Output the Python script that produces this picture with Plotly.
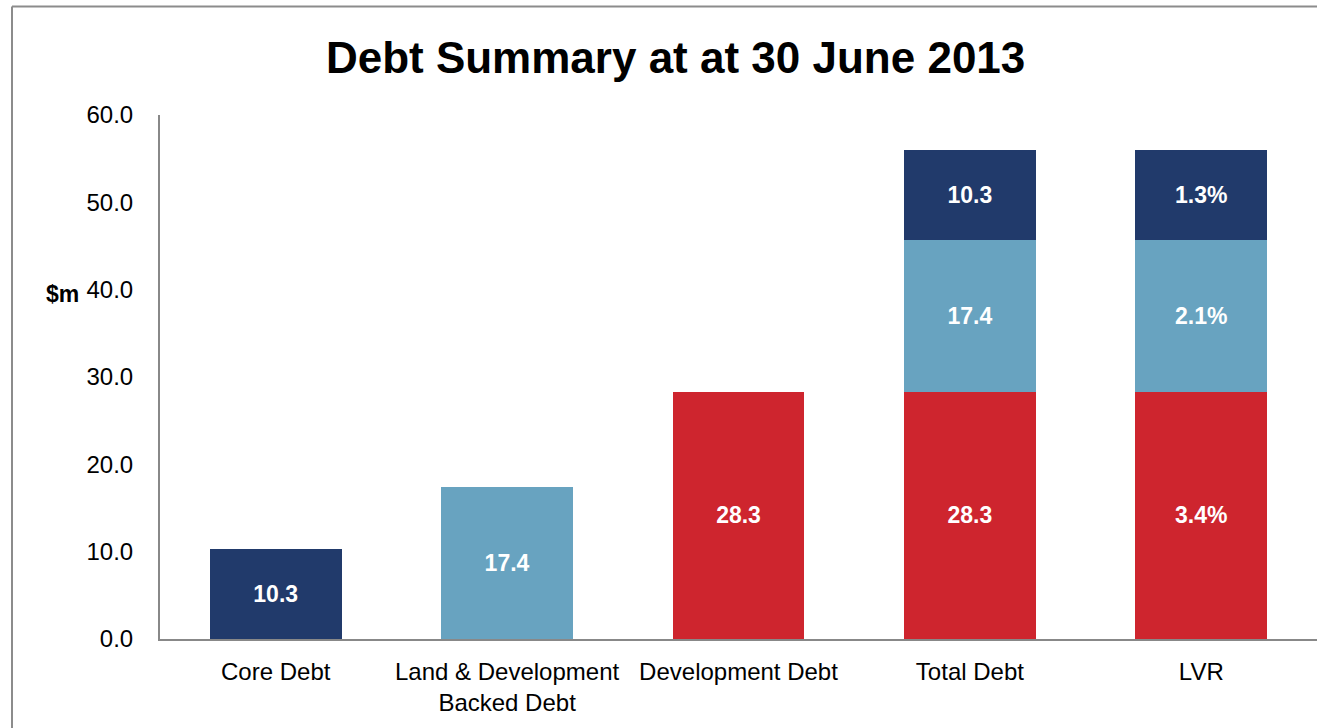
import plotly.graph_objects as go

# Debt categories and component values ($m)
categories = ["Core Debt", "Land & Development<br>Backed Debt", "Development Debt", "Total Debt", "LVR"]
core_debt = 10.3
land_dev_debt = 17.4
development_debt = 28.3
# LVR shares (%) for each component
lvr_development = 3.4
lvr_land_dev = 2.1
lvr_core = 1.3

y_ticks = [0, 10, 20, 30, 40, 50, 60]

NAVY = "#213A6B"
BLUE = "#68A3C0"
RED = "#CE252E"
FONT = "Liberation Sans, Arial, sans-serif"

label_font = dict(family=FONT, size=23, color="white", weight="bold")

fig = go.Figure()

# Red: development debt component
fig.add_trace(go.Bar(
    x=[categories[2], categories[3], categories[4]],
    y=[development_debt, development_debt, development_debt],
    text=[f"{development_debt:.1f}", f"{development_debt:.1f}", f"{lvr_development:.1f}%"],
    marker=dict(color=RED, line=dict(width=0)),
    name="Development Debt",
))
# Light blue: land & development backed debt
fig.add_trace(go.Bar(
    x=[categories[1], categories[3], categories[4]],
    y=[land_dev_debt, land_dev_debt, land_dev_debt],
    text=[f"{land_dev_debt:.1f}", f"{land_dev_debt:.1f}", f"{lvr_land_dev:.1f}%"],
    marker=dict(color=BLUE, line=dict(width=0)),
    name="Land & Development Backed Debt",
))
# Navy: core debt
fig.add_trace(go.Bar(
    x=[categories[0], categories[3], categories[4]],
    y=[core_debt, core_debt, core_debt],
    text=[f"{core_debt:.1f}", f"{core_debt:.1f}", f"{lvr_core:.1f}%"],
    marker=dict(color=NAVY, line=dict(width=0)),
    name="Core Debt",
))

fig.update_traces(
    textposition="inside",
    insidetextanchor="middle",
    textangle=0,
    textfont=label_font,
    insidetextfont=label_font,
    width=0.57,
    hoverinfo="x+y",
)

fig.update_layout(
    width=1317,
    height=728,
    margin=dict(l=160, r=0, t=115, b=89),
    paper_bgcolor="white",
    plot_bgcolor="white",
    barmode="stack",
    showlegend=False,
    uniformtext=dict(mode=False),
    font=dict(family=FONT, size=24, color="black"),
    title=dict(
        text="Debt Summary at at 30 June 2013",
        font=dict(family=FONT, size=44, color="black", weight="bold"),
        x=0.513, xref="container", xanchor="center",
        y=1 - 58 / 728, yref="container", yanchor="middle",
    ),
    xaxis=dict(
        categoryorder="array",
        categoryarray=categories,
        showline=True,
        linecolor="#888888",
        linewidth=2,
        ticks="",
        showgrid=False,
        zeroline=False,
        tickfont=dict(family=FONT, size=24, color="black"),
        ticklabelstandoff=10,
    ),
    yaxis=dict(
        range=[0, 60],
        tickvals=y_ticks,
        ticktext=[f"{v:.1f}" for v in y_ticks],
        showline=True,
        linecolor="#888888",
        linewidth=2,
        ticks="",
        showgrid=False,
        zeroline=False,
        tickfont=dict(family=FONT, size=24, color="black"),
        ticklabelstandoff=20,
    ),
    annotations=[
        dict(
            text="$m",
            xref="paper", yref="y",
            x=(63 - 160) / 1157, y=39.5,
            xanchor="center", yanchor="middle",
            showarrow=False,
            font=dict(family=FONT, size=23, color="black", weight="bold"),
        )
    ],
    shapes=[
        # outer frame (left and top edges visible)
        dict(type="line", xref="paper", yref="paper",
             x0=(12 - 160) / 1157, x1=(12 - 160) / 1157,
             y0=(639 - 740) / 524, y1=(639 - 6.5) / 524,
             line=dict(color="#8C8C8C", width=2)),
        dict(type="line", xref="paper", yref="paper",
             x0=(12 - 160) / 1157, x1=(1330 - 160) / 1157,
             y0=(639 - 6.5) / 524, y1=(639 - 6.5) / 524,
             line=dict(color="#8C8C8C", width=2)),
    ],
)

fig.write_html("out.html")
